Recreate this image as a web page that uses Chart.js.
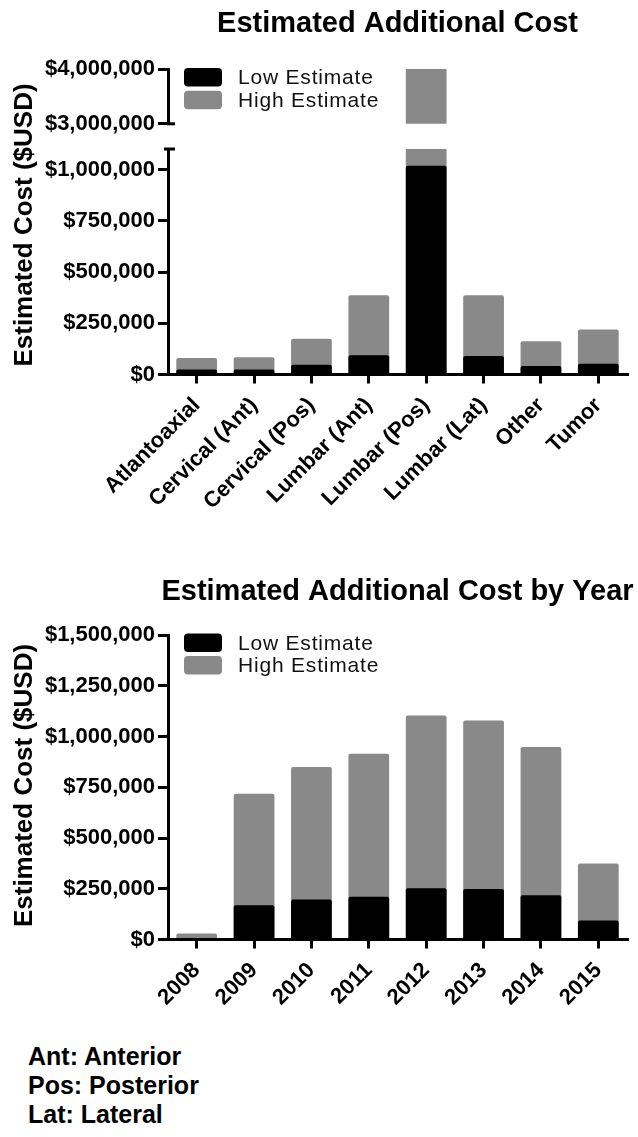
<!DOCTYPE html>
<html><head><meta charset="utf-8">
<script src="https://cdn.jsdelivr.net/npm/chart.js@4.4.1/dist/chart.umd.min.js"></script>
<style>
html,body{margin:0;padding:0;background:#fff;}
#wrap{position:relative;width:638px;height:1137px;overflow:hidden;background:#fff;}
.cv{position:absolute;left:0;}
#note{position:absolute;left:28px;top:1042px;font:bold 25px "Liberation Sans",Arial,sans-serif;line-height:29px;color:#000;}
</style></head><body>
<div id="wrap">
  <div class="cv" style="top:0;z-index:1"><canvas id="cLower" width="638" height="520"></canvas></div>
  <div class="cv" style="top:0;z-index:2"><canvas id="cUpper" width="638" height="140"></canvas></div>
  <div class="cv" style="top:560px;z-index:1"><canvas id="cYear" width="638" height="480"></canvas></div>
  <div id="note">Ant: Anterior<br>Pos: Posterior<br>Lat: Lateral</div>
</div>
<script>
// ---------- data ----------
const procedures = ['Atlantoaxial','Cervical (Ant)','Cervical (Pos)','Lumbar (Ant)','Lumbar (Pos)','Lumbar (Lat)','Other','Tumor'];
const procLow  = [25000, 24000, 48000, 94000, 1018000, 90000, 42000, 53000];
const procHigh = [80000, 84000, 175000, 386000, 4520000, 386000, 162000, 219000];
const years    = ['2008','2009','2010','2011','2012','2013','2014','2015'];
const yearLow  = [8000, 169000, 197000, 210000, 252000, 249000, 218000, 93000];
const yearHigh = [30000, 718000, 850000, 915000, 1104000, 1079000, 948000, 374000];
const seriesNames = ['Low Estimate','High Estimate'];
const chartTitles = ['Estimated Additional Cost','Estimated Additional Cost by Year'];
const yAxisTitle = 'Estimated Cost ($USD)';
const upperRange = [3000000, 4000000];
const upperTicks = [3000000, 4000000];
const lowerRange = [0, 1100000];
const lowerTicks = [0, 250000, 500000, 750000, 1000000];
const yearRange  = [0, 1500000];
const yearTicks  = [0, 250000, 500000, 750000, 1000000, 1250000, 1500000];

// ---------- styling ----------
const FONT = '"Liberation Sans", Arial, Helvetica, sans-serif';
Chart.defaults.font.family = FONT;
Chart.defaults.color = '#000';
const LOW_COLOR = '#000000';
const HIGH_COLOR = '#898989';
const AXIS_LEFT = 168;
const money = v => '$' + Number(v).toLocaleString('en-US');

const panelText = {
  id: 'panelText',
  afterDraw(chart, args, o) {
    const ctx = chart.ctx, a = chart.chartArea;
    ctx.save();
    ctx.fillStyle = '#000';
    if (o.title) {
      ctx.font = 'bold 29px ' + FONT;
      ctx.textAlign = 'center'; ctx.textBaseline = 'alphabetic';
      ctx.fillText(o.title, (a.left + a.right) / 2, o.titleBaseline);
    }
    if (o.yTitle) {
      ctx.translate(o.yTitleBaseline, o.yTitleCenter);
      ctx.rotate(-Math.PI / 2);
      ctx.font = 'bold 26px ' + FONT;
      ctx.textAlign = 'center'; ctx.textBaseline = 'alphabetic';
      ctx.fillText(o.yTitle, 0, 0);
    }
    ctx.restore();
  }
};

const cornerLegend = {
  id: 'cornerLegend',
  afterDraw(chart, args, o) {
    if (!o.show) return;
    const ctx = chart.ctx, a = chart.chartArea;
    const x = a.left + o.dx, y0 = a.top + o.dy;
    ctx.save();
    chart.data.datasets.forEach((ds, i) => {
      const top = y0 + i * o.step;
      ctx.fillStyle = ds.backgroundColor;
      ctx.beginPath(); ctx.roundRect(x, top, o.boxW, o.boxH, 4); ctx.fill();
      ctx.fillStyle = '#111';
      ctx.font = '21px ' + FONT;
      if ('letterSpacing' in ctx) ctx.letterSpacing = '0.8px';
      ctx.textAlign = 'left'; ctx.textBaseline = 'middle';
      ctx.fillText(ds.label, x + o.textDx, top + o.boxH / 2 + 1);
    });
    ctx.restore();
  }
};

const breakMarks = {
  id: 'breakMarks',
  afterDraw(chart, args, o) {
    if (!o.mode) return;
    const ctx = chart.ctx, s = chart.scales.y;
    ctx.save();
    ctx.strokeStyle = '#000'; ctx.lineWidth = 3;
    ctx.beginPath();
    if (o.mode === 'bottom') { ctx.moveTo(s.right - 1, s.bottom); ctx.lineTo(s.right + 7, s.bottom); }
    if (o.mode === 'top') { ctx.moveTo(s.right - 4, s.top); ctx.lineTo(s.right + 7, s.top); }
    ctx.stroke();
    ctx.restore();
  }
};

function datasets(low, high) {
  return [
    { label: seriesNames[0], data: low, backgroundColor: LOW_COLOR },
    { label: seriesNames[1], data: high, backgroundColor: HIGH_COLOR }
  ];
}

function yScale(range, tickValues) {
  return {
    min: range[0], max: range[1],
    afterFit: s => { s.width = AXIS_LEFT; },
    afterBuildTicks: s => { s.ticks = tickValues.map(v => ({ value: v })); },
    border: { display: true, color: '#000', width: 3 },
    grid: { drawOnChartArea: false, drawTicks: true, tickLength: 10, color: '#000', lineWidth: 3, tickWidth: 3 },
    ticks: { padding: 3, font: { size: 22, weight: 'bold' }, color: '#000', callback: v => money(v) }
  };
}

function xScale(show, height) {
  return {
    display: show,
    offset: true,
    afterFit: s => { if (show) s.height = height; },
    border: { display: true, color: '#000', width: 3 },
    grid: { offset: false, drawOnChartArea: false, drawTicks: true, tickLength: 9, color: '#000', lineWidth: 3, tickWidth: 3 },
    ticks: { minRotation: 45, maxRotation: 45, autoSkip: false, padding: 9, font: { size: 22, weight: 'bold' }, color: '#000' }
  };
}

function baseOptions(extra) {
  return Object.assign({
    responsive: false,
    animation: false,
    events: [],
    datasets: { bar: { grouped: false, categoryPercentage: 1, barPercentage: 0.71, borderRadius: 2, clip: 0 } },
  }, extra);
}

// ---------- top panel: lower segment (0 - 1.1M) ----------
new Chart(document.getElementById('cLower'), {
  type: 'bar',
  data: { labels: procedures, datasets: datasets(procLow, procHigh) },
  options: baseOptions({
    layout: { padding: { top: 149, right: 11, left: 0, bottom: 0 } },
    scales: { x: xScale(true, 145.5), y: yScale(lowerRange, lowerTicks) },
    plugins: {
      legend: { display: false }, tooltip: { enabled: false }, title: { display: false },
      panelText: { title: chartTitles[0], titleBaseline: 32, yTitle: yAxisTitle, yTitleBaseline: 32, yTitleCenter: 225 },
      cornerLegend: { show: false },
      breakMarks: { mode: 'top' }
    }
  }),
  plugins: [panelText, cornerLegend, breakMarks]
});

// ---------- top panel: upper segment (3M - 4M) ----------
new Chart(document.getElementById('cUpper'), {
  type: 'bar',
  data: { labels: procedures, datasets: datasets(procLow, procHigh) },
  options: baseOptions({
    layout: { padding: { top: 69, right: 11, left: 0, bottom: 14 } },
    scales: { x: xScale(false, 0), y: yScale(upperRange, upperTicks) },
    plugins: {
      legend: { display: false }, tooltip: { enabled: false }, title: { display: false },
      panelText: {},
      cornerLegend: { show: true, dx: 16, dy: -1, step: 22.7, boxW: 38, boxH: 18.5, textDx: 54 },
      breakMarks: { mode: 'bottom' }
    }
  }),
  plugins: [panelText, cornerLegend, breakMarks]
});

// ---------- bottom panel: by year ----------
new Chart(document.getElementById('cYear'), {
  type: 'bar',
  data: { labels: years, datasets: datasets(yearLow, yearHigh) },
  options: baseOptions({
    layout: { padding: { top: 75, right: 11, left: 0, bottom: 0 } },
    scales: { x: xScale(true, 100.5), y: yScale(yearRange, yearTicks) },
    plugins: {
      legend: { display: false }, tooltip: { enabled: false }, title: { display: false },
      panelText: { title: chartTitles[1], titleBaseline: 40, yTitle: yAxisTitle, yTitleBaseline: 32, yTitleCenter: 225.5 },
      cornerLegend: { show: true, dx: 16, dy: -1.5, step: 22.5, boxW: 38, boxH: 18.5, textDx: 54 },
      breakMarks: {}
    }
  }),
  plugins: [panelText, cornerLegend, breakMarks]
});
</script>
</body></html>
